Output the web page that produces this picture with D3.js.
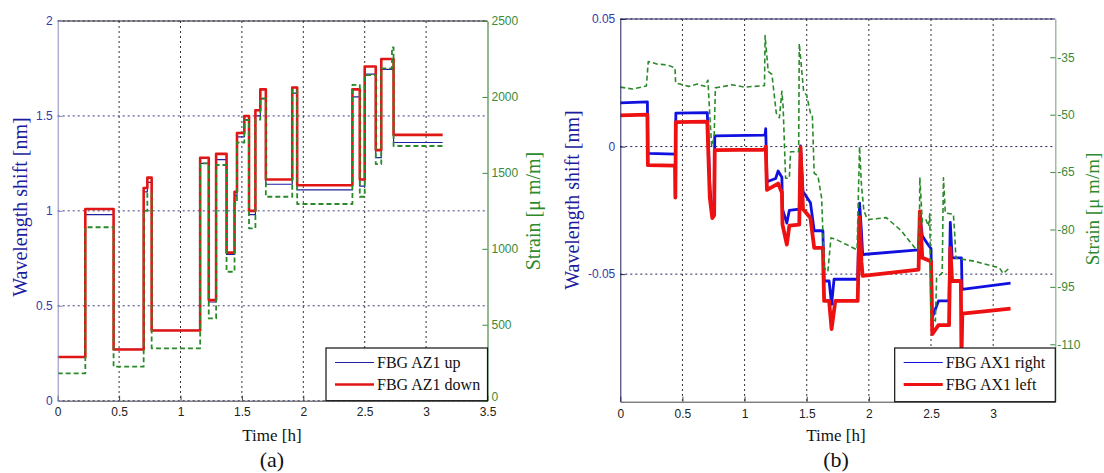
<!DOCTYPE html>
<html><head><meta charset="utf-8">
<script src="https://cdn.jsdelivr.net/npm/d3@7"></script>
<style>body{margin:0;background:#fff}svg{display:block}</style>
</head><body><svg id="c" width="1104" height="473"></svg>
<script>
// ---------- Panel (a) data ----------
const timeA   = [0, 0.225, 0.455, 0.70, 0.73, 0.765, 1.16, 1.23, 1.29, 1.375, 1.44, 1.46, 1.52, 1.558, 1.61, 1.65, 1.695, 1.91, 1.95, 2.40, 2.46, 2.50, 2.59, 2.635, 2.722, 2.735, 3.135];
const upA     = [0.23, 0.98, 0.27, 1.10, 1.15, 0.37, 1.25, 0.52, 1.27, 0.77, 1.08, 1.39, 1.48, 0.98, 1.50, 1.59, 1.14, 1.62, 1.11, 1.60, 1.13, 1.72, 1.28, 1.745, 1.745, 1.36, 1.36];
const downA   = [0.23, 1.01, 0.27, 1.12, 1.175, 0.37, 1.28, 0.53, 1.30, 0.78, 1.10, 1.41, 1.50, 1.00, 1.53, 1.64, 1.165, 1.65, 1.135, 1.64, 1.165, 1.76, 1.32, 1.80, 1.80, 1.40, 1.40];
const strainA = [180, 1142, 224, 1250, 1365, 345, 1563, 542, 1552, 849, 1300, 1700, 1848, 1135, 1850, 1991, 1343, 2046, 1295, 2079, 1343, 2144, 1558, 2188, 2327, 1677, 1677];
const xTicksA = [0, 0.5, 1, 1.5, 2, 2.5, 3, 3.5];
const yTicksA = [0, 0.5, 1, 1.5, 2];
const sTicksA = [0, 500, 1000, 1500, 2000, 2500];
const legendA = ["FBG AZ1 up", "FBG AZ1 down"];

// ---------- Panel (b) data ----------
const rightT = [0, 0.218, 0.222, 0.443, 0.447, 0.70, 0.72, 0.735, 0.755, 0.76, 1.165, 1.17, 1.18, 1.25, 1.27, 1.30, 1.305, 1.34, 1.36, 1.44, 1.45, 1.47, 1.53, 1.56, 1.63, 1.64, 1.68, 1.70, 1.72, 1.91, 1.925, 1.94, 1.95, 2.40, 2.41, 2.43, 2.47, 2.50, 2.51, 2.56, 2.645, 2.655, 2.67, 2.745, 2.75, 3.14];
const rightV = [0.0171, 0.0175, -0.0027, -0.003, 0.0131, 0.0133, -0.015, -0.0254, -0.024, 0.0042, 0.0045, 0.007, -0.0138, -0.0125, -0.0096, -0.012, -0.0245, -0.030, -0.025, -0.0245, 0.0003, -0.0176, -0.022, -0.033, -0.033, -0.0527, -0.0527, -0.0618, -0.052, -0.052, -0.0222, -0.033, -0.0423, -0.0405, -0.0267, -0.035, -0.038, -0.040, -0.067, -0.0605, -0.0605, -0.0297, -0.0436, -0.0436, -0.056, -0.0535];
const leftT  = [0, 0.218, 0.222, 0.44, 0.443, 0.447, 0.70, 0.72, 0.74, 0.755, 0.76, 1.165, 1.17, 1.18, 1.27, 1.30, 1.305, 1.34, 1.36, 1.44, 1.45, 1.47, 1.53, 1.56, 1.63, 1.64, 1.68, 1.70, 1.73, 1.91, 1.925, 1.94, 1.95, 2.40, 2.41, 2.43, 2.50, 2.51, 2.56, 2.645, 2.655, 2.67, 2.74, 2.745, 2.752, 3.14];
const leftV  = [0.0122, 0.0125, -0.0073, -0.0075, -0.020, 0.0096, 0.0098, -0.020, -0.028, -0.027, -0.0014, -0.0012, 0.0, -0.017, -0.0145, -0.018, -0.0306, -0.0384, -0.031, -0.0306, -0.0003, -0.0245, -0.028, -0.0397, -0.0397, -0.0605, -0.0605, -0.0715, -0.0605, -0.0605, -0.0276, -0.045, -0.0507, -0.0482, -0.0254, -0.0436, -0.045, -0.0735, -0.0700, -0.0700, -0.0397, -0.0527, -0.0527, -0.083, -0.0655, -0.0635];
const strainT = [0, 0.10, 0.21, 0.225, 0.30, 0.38, 0.44, 0.445, 0.55, 0.62, 0.68, 0.705, 0.72, 0.735, 0.755, 0.765, 0.90, 1.00, 1.16, 1.165, 1.19, 1.22, 1.255, 1.28, 1.30, 1.31, 1.33, 1.36, 1.37, 1.435, 1.44, 1.475, 1.50, 1.53, 1.545, 1.56, 1.59, 1.62, 1.64, 1.67, 1.695, 1.73, 1.905, 1.925, 1.94, 1.96, 1.99, 2.14, 2.26, 2.37, 2.405, 2.41, 2.43, 2.46, 2.48, 2.49, 2.50, 2.535, 2.545, 2.59, 2.60, 2.615, 2.68, 2.69, 2.70, 2.85, 2.94, 3.05, 3.08, 3.13];
const strainV = [-42.8, -43.3, -42.5, -36.1, -36.8, -37.0, -37.8, -41.7, -42.6, -42.0, -42.6, -41.0, -50, -58.3, -56, -43.0, -42.2, -42.8, -42.4, -29.3, -38.7, -39.5, -49.6, -50.8, -43.9, -47.9, -66.6, -66.6, -59.7, -59.7, -31.4, -43.9, -45, -49.6, -50, -65.3, -66, -71.8, -90, -91, -82.2, -82.5, -85.3, -58.3, -68.3, -75.2, -77.4, -76.9, -80.3, -84.8, -85, -66.4, -78.0, -77.5, -79.2, -75.9, -103.1, -103.9, -92.7, -91.3, -66.5, -75.7, -76, -80.9, -87.5, -88.3, -89.1, -90, -91.5, -90.1];
const xTicksB = [0, 0.5, 1, 1.5, 2, 2.5, 3];
const yTicksB = [-0.05, 0, 0.05];
const sTicksB = [-110, -95, -80, -65, -50, -35];
const legendB = ["FBG AX1 right", "FBG AX1 left"];

const SANS = "'Liberation Sans', Arial, sans-serif";
const SERIF = "'Liberation Serif', 'Times New Roman', serif";
const svg = d3.select("#c");
svg.append("rect").attr("width",1104).attr("height",473).attr("fill","#fff");

const fmt = v => String(v);

function panel(o) {
  const g = svg.append("g");
  const x = d3.scaleLinear().domain([0, 3.5]).range([o.x0, o.x1]);
  const y = d3.scaleLinear().domain(o.yDom).range([o.y1, o.y0]);
  const s = d3.scaleLinear().domain(o.sDom).range([o.y1, o.y0]);
  const clipId = "clip" + o.id;
  svg.append("clipPath").attr("id", clipId).append("rect")
    .attr("x", o.x0).attr("y", o.y0 - 2).attr("width", o.x1 - o.x0).attr("height", o.y1 - o.y0 + 2);

  // grid
  o.xTicks.filter(t => t > 0 && t < 3.5).forEach(t => {
    g.append("line").attr("x1", x(t)).attr("x2", x(t)).attr("y1", o.y0).attr("y2", o.y1)
      .attr("stroke", "#333").attr("stroke-width", 1).attr("stroke-dasharray", "2,3");
  });
  o.yTicks.forEach(t => {
    g.append("line").attr("x1", o.x0).attr("x2", o.x1).attr("y1", y(t)).attr("y2", y(t))
      .attr("stroke", o.hGrid).attr("stroke-width", 1).attr("stroke-dasharray", "2,3");
  });

  g.append("line").attr("x1", o.x0).attr("x2", o.x1).attr("y1", o.y0).attr("y2", o.y0)
    .attr("stroke", o.topCol).attr("stroke-width", 1.2);

  // series
  const lines = g.append("g").attr("clip-path", `url(#${clipId})`);
  o.series.forEach(sr => {
    const sc = sr.axis === "s" ? s : y;
    const pts = sr.t.map((t, i) => [t, sr.v[i]]);
    const gen = d3.line().x(d => x(d[0])).y(d => sc(d[1])).curve(sr.step ? d3.curveStepAfter : d3.curveLinear);
    lines.append("path").attr("d", gen(pts)).attr("fill", "none")
      .attr("stroke", sr.color).attr("stroke-width", sr.w)
      .attr("stroke-dasharray", sr.dash || null).attr("stroke-linejoin", "round");
  });

  // axes
  const ax = g.append("g").attr("transform", `translate(0,${o.y1})`)
    .call(d3.axisBottom(x).tickValues(o.xTicks).tickFormat(fmt).tickSizeInner(-5).tickSizeOuter(0).tickPadding(o.xPad));
  ax.select(".domain").attr("stroke", "#444");
  ax.selectAll(".tick line").attr("stroke", "#444");
  ax.selectAll("text").attr("font-family", SANS).attr("font-size", 12).attr("fill", "#222");

  const ay = g.append("g").attr("transform", `translate(${o.x0},0)`)
    .call(d3.axisLeft(y).tickValues(o.yTicks).tickFormat(fmt).tickSizeInner(-5).tickSizeOuter(0).tickPadding(5));
  ay.select(".domain").attr("stroke", o.leftAxisCol);
  ay.selectAll(".tick line").attr("stroke", o.leftAxisCol);
  ay.selectAll("text").attr("font-family", SANS).attr("font-size", 12).attr("fill", "#3838a8");

  const as = g.append("g").attr("transform", `translate(${o.x1},0)`)
    .call(d3.axisRight(s).tickValues(o.sTicks).tickFormat(fmt).tickSizeInner(-5).tickSizeOuter(0).tickPadding(o.sPad));
  as.select(".domain").attr("stroke", o.rightAxisCol).attr("stroke-width", 1.2);
  as.selectAll(".tick line").attr("stroke", "#3a8a3a");
  as.selectAll("text").attr("font-family", SANS).attr("font-size", 12).attr("fill", "#3a8a3a");
  // lift the bottom strain label so it clears the x tick label beneath it
  as.selectAll(".tick text").filter(d => d === o.sDom[0]).attr("dy", "-0.05em");

  // labels
  g.append("text").attr("transform", `translate(${o.ylx},${o.yly}) rotate(-90)`)
    .attr("text-anchor", "middle").attr("dominant-baseline", "central")
    .attr("font-family", SERIF).attr("font-size", 20).attr("fill", "#1c1ca0").text("Wavelength shift [nm]");
  g.append("text").attr("transform", `translate(${o.slx},${o.sly}) rotate(-90)`)
    .attr("text-anchor", "middle").attr("dominant-baseline", "central")
    .attr("font-family", SERIF).attr("font-size", o.sFont).attr("fill", "#2e8a2e").text("Strain [\u03bc m/m]");
  g.append("text").attr("x", o.xlx).attr("y", 441).attr("text-anchor", "middle")
    .attr("font-family", SERIF).attr("font-size", 17).attr("fill", "#111").text("Time [h]");
  g.append("text").attr("x", o.xlx).attr("y", 467).attr("text-anchor", "middle")
    .attr("font-family", SERIF).attr("font-size", 22).attr("fill", "#111").text(o.tag);

  // legend
  const L = o.legend;
  const lg = g.append("g");
  lg.append("rect").attr("x", L.x).attr("y", L.y).attr("width", L.w).attr("height", L.h)
    .attr("fill", "#fff").attr("stroke", "#111").attr("stroke-width", 1.2);
  L.items.forEach((it, i) => {
    const yy = L.y + 14.5 + i * 22;
    lg.append("line").attr("x1", L.x + 9).attr("x2", L.x + 48).attr("y1", yy).attr("y2", yy)
      .attr("stroke", it.color).attr("stroke-width", it.w);
    lg.append("text").attr("x", L.x + 51).attr("y", yy + 5).attr("font-family", SERIF)
      .attr("font-size", 16).attr("fill", "#111").text(it.label);
  });
}

panel({
  id: "a", x0: 57.7, x1: 487.5, y0: 21, y1: 400.7,
  yDom: [0, 2], sDom: [0, 2500],
  xTicks: xTicksA, yTicks: yTicksA, sTicks: sTicksA,
  hGrid: "#3a3a80", topCol: "#222", leftAxisCol: "#8a8ac0", rightAxisCol: "#4a8a4a",
  xPad: 7, sPad: 4, sFont: 20,
  series: [
    {t: timeA, v: upA, color: "#2222a0", w: 1.2, step: true},
    {t: timeA, v: downA, color: "#e01616", w: 2.6, step: true},
    {t: timeA, v: strainA, axis: "s", color: "#2a8a2a", w: 1.8, dash: "5,3", step: true}
  ],
  ylx: 20, yly: 207, slx: 533, sly: 211, xlx: 272, tag: "(a)",
  legend: {x: 326, y: 348, w: 161.5, h: 52.7, items: [
    {label: legendA[0], color: "#2222a0", w: 1.2},
    {label: legendA[1], color: "#e01616", w: 2.6}
  ]}
});

panel({
  id: "b", x0: 620.3, x1: 1055.3, y0: 19, y1: 401.7,
  yDom: [-0.1, 0.05], sDom: [-125, -25],
  xTicks: xTicksB, yTicks: yTicksB, sTicks: sTicksB,
  hGrid: "#20205a", topCol: "#20205a", leftAxisCol: "#20205a", rightAxisCol: "#8aaa8a",
  xPad: 8, sPad: 2, sFont: 19,
  series: [
    {t: rightT, v: rightV, color: "#1010e0", w: 2.8},
    {t: leftT, v: leftV, color: "#ee1111", w: 3.8},
    {t: strainT, v: strainV, axis: "s", color: "#2a8a2a", w: 1.6, dash: "5,3"}
  ],
  ylx: 572, yly: 200, slx: 1092, sly: 209, xlx: 836, tag: "(b)",
  legend: {x: 894.7, y: 348, w: 160.6, h: 53.7, items: [
    {label: legendB[0], color: "#1010e0", w: 1.2},
    {label: legendB[1], color: "#ee1111", w: 3}
  ]}
});
</script>
</body></html>
